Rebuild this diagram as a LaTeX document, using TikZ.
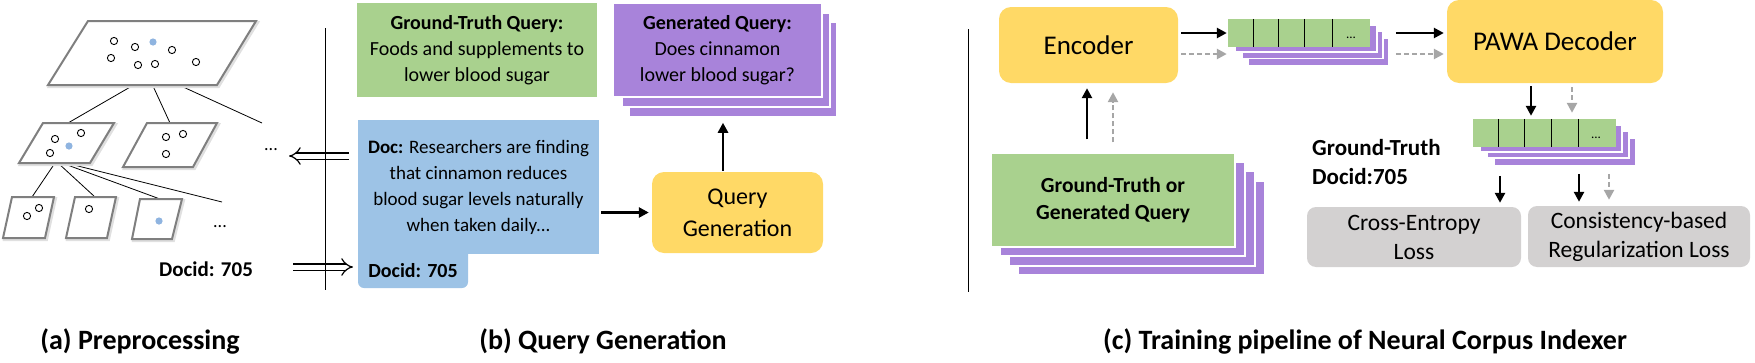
\documentclass[tikz,border=0pt]{standalone}
\usepackage{fontspec}
\setmainfont{Carlito}
\usetikzlibrary{arrows.meta}
\definecolor{qgreen}{HTML}{A9D18E}
\definecolor{qpurple}{HTML}{A883DA}
\definecolor{qblue}{HTML}{9DC3E6}
\definecolor{qyellow}{HTML}{FFD966}
\definecolor{qgray}{HTML}{D3D1D1}
\definecolor{dotblue}{HTML}{8FB4E0}
\definecolor{pgray}{HTML}{7F7F7F}
\definecolor{dgray}{HTML}{A6A6A6}
\newcommand\fsz[2]{\fontsize{#1}{#2}\selectfont}
\begin{document}
\begin{tikzpicture}[x=1pt,y=-1pt,
  para/.style={draw=pgray, line width=2pt, fill=white, line join=miter,
    preaction={draw=black!12, line width=3pt, transform canvas={shift={(1.5pt,-1.5pt)}}}},
  dotw/.style={draw=black, line width=0.9pt, fill=white},
  dotb/.style={fill=dotblue},
  tline/.style={line width=0.8pt, black},
  box/.style={inner sep=0pt, align=center},
  layer/.style={fill=qpurple, draw=white, line width=1.5pt},
  arr/.style={-{Triangle[length=10pt,width=10pt]}, line width=2.7pt, black},
  darr/.style={-{Triangle[length=10pt,width=10pt]}, line width=2.7pt, dgray, dash pattern=on 5pt off 3pt},
  hollow/.style={double=white, double distance=5pt, line width=1.2pt, -{Implies[length=7pt]}},
  divider/.style={line width=1pt, black},
  captxt/.style={font=\fsz{28}{32}\bfseries}
]
\useasboundingbox (0,0) rectangle (1755,362);

% ---------------- (a) Preprocessing ----------------
\draw[tline] (132,86) -- (68,123);
\draw[tline] (153,86) -- (170,123);
\draw[tline] (181,86) -- (262,123);
\draw[tline] (55,163) -- (32,197);
\draw[tline] (58,163) -- (95,197);
\draw[tline] (62,163) -- (160,199);
\draw[tline] (66,163) -- (222,202);

\draw[para] (88,21) -- (256,21) -- (217,85) -- (48,85) -- cycle;
\foreach \p in {(114,41),(135,47),(172,50),(111,58),(138,65),(155,64),(196,62)}
  \draw[dotw] \p circle[radius=3.6];
\fill[dotb] (153,42) circle[radius=3.6];

\draw[para] (43,123) -- (114,123) -- (90,163) -- (19,163) -- cycle;
\foreach \p in {(55,139),(81,133),(50,153)}
  \draw[dotw] \p circle[radius=3.6];
\fill[dotb] (69,146) circle[radius=3.6];

\draw[para] (147,123) -- (217,123) -- (193,167) -- (123,167) -- cycle;
\foreach \p in {(166,137),(183,134),(166,154)}
  \draw[dotw] \p circle[radius=3.6];

\draw[para] (12,197) -- (54,197) -- (45,238) -- (3,238) -- cycle;
\foreach \p in {(27,216),(39,208)}
  \draw[dotw] \p circle[radius=3.6];
\draw[para] (75,197) -- (116,197) -- (107,238) -- (66,238) -- cycle;
\draw[dotw] (89,209) circle[radius=3.6];
\draw[para] (140,199) -- (182,199) -- (172,239) -- (132,239) -- cycle;
\fill[dotb] (159,221) circle[radius=3.6];

\node[box, font=\fsz{18}{20}] (dotsa) at (271,150) {...};
\node[box, font=\fsz{18}{20}] (dotsb) at (220,227) {...};
\node[box, font=\fsz{21}{24}\bfseries] (docida) at (206,269) {Docid: 705};

\coordinate (hl1) at (349,156);
\coordinate (hl2) at (289,156);
\coordinate (hr1) at (293,267);
\coordinate (hr2) at (353,267);
\draw[hollow] (hl1) -- (hl2);
\draw[hollow] (hr1) -- (hr2);
\coordinate (d1t) at (325,28);
\coordinate (d1b) at (325,290);
\draw[divider] (d1t) -- (d1b);

\node[captxt] (capa) at (140,341) {(a) Preprocessing};

% ---------------- (b) Query Generation ----------------
\node[box, fill=qgreen, minimum width=240, minimum height=94, font=\fsz{20}{26}] (gtq) at (477,50)
  {\textbf{Ground-Truth Query:}\\Foods and supplements to\\lower blood sugar};

\node[layer, minimum width=208, minimum height=95] (gq3) at (733,69.5) {};
\node[layer, minimum width=208, minimum height=94] (gq2) at (726,60) {};
\node[box, fill=qpurple, draw=white, line width=1.5pt, minimum width=209, minimum height=94, font=\fsz{20}{26}] (gq) at (717.5,50)
  {\textbf{Generated Query:}\\Does cinnamon\\lower blood sugar?};

\fill[qblue, rounded corners=6pt] (358,230) rectangle (468,288);
\node[box, fill=qblue, minimum width=241, minimum height=134, font=\fsz{19}{26}] (doc) at (478.5,187)
  {\textbf{Doc:} Researchers are finding\\that cinnamon reduces\\blood sugar levels naturally\\when taken daily...};
\node[box, font=\fsz{20}{24}\bfseries] (docidb) at (413,271) {Docid: 705};

\node[box, fill=qyellow, rounded corners=12pt, minimum width=171, minimum height=81, font=\fsz{24}{32}] (qg) at (737.5,212.5)
  {Query\\Generation};

\draw[arr, shorten <=2pt, shorten >=3pt] (doc.east |- qg.west) -- (qg.west);
\coordinate (qax) at (723,0);
\draw[arr, shorten <=1pt, shorten >=5pt] (qg.north -| qax) -- (gq3.south -| qax);

\node[captxt] (capb) at (603,341) {(b) Query Generation};

% ---------------- (c) Training pipeline ----------------
\coordinate (d2t) at (968,29);
\coordinate (d2b) at (968,292);
\draw[divider] (d2t) -- (d2b);

\node[box, fill=qyellow, rounded corners=12pt, minimum width=179, minimum height=76, font=\fsz{27}{32}] (enc) at (1088.5,45) {Encoder};
\node[box, fill=qyellow, rounded corners=12pt, minimum width=216, minimum height=83, font=\fsz{27}{32}] (dec) at (1555,41.5) {PAWA Decoder};

% sequence 1
\node[layer, minimum width=141, minimum height=28] (s1c) at (1318.5,52) {};
\node[layer, minimum width=141, minimum height=27] (s1b) at (1312.5,45) {};
\node[layer, minimum width=142, minimum height=27] (s1a) at (1306,38.5) {};
\node[box, fill=qgreen, minimum width=142, minimum height=28] (s1) at (1299,33) {};
\foreach \xx in {1253,1278,1304,1332}
  \draw[line width=1pt] (s1.north -| \xx,0) -- (s1.south -| \xx,0);
\node[box, font=\fsz{13}{14}] (s1dots) at (1351,38) {...};

% sequence 2
\node[layer, minimum width=142, minimum height=28] (s2c) at (1565,152) {};
\node[layer, minimum width=142, minimum height=27] (s2b) at (1558,144.5) {};
\node[layer, minimum width=142, minimum height=27] (s2a) at (1551,138.5) {};
\node[box, fill=qgreen, minimum width=143, minimum height=28] (s2) at (1544.5,133) {};
\foreach \xx in {1498,1524,1551,1578}
  \draw[line width=1pt] (s2.north -| \xx,0) -- (s2.south -| \xx,0);
\node[box, font=\fsz{13}{14}] (s2dots) at (1596,138) {...};

% query stack
\node[layer, minimum width=247, minimum height=94] (gc3) at (1141.5,228) {};
\node[layer, minimum width=246, minimum height=95] (gc2) at (1132,218.5) {};
\node[layer, minimum width=245, minimum height=94] (gc1) at (1122.5,209) {};
\node[box, fill=qgreen, draw=white, line width=1.5pt, minimum width=244, minimum height=94, font=\fsz{21.5}{27}\bfseries] (gq0) at (1113,200)
  {Ground-Truth or\\Generated Query};

\node[box, align=left, anchor=west, font=\fsz{23}{29}\bfseries] (gtd) at (1312,162.5) {Ground-Truth\\Docid:705};

\node[box, fill=qgray, rounded corners=9pt, minimum width=214, minimum height=60, font=\fsz{23.5}{29}] (ce) at (1414,237) {Cross-Entropy\\Loss};
\node[box, fill=qgray, rounded corners=9pt, minimum width=222, minimum height=61, font=\fsz{23.5}{29}] (cr) at (1639,236.5) {Consistency-based\\Regularization Loss};

% arrows
\coordinate (ax1) at (1087,0);
\coordinate (ax2) at (1113,0);
\draw[arr, shorten <=13pt, shorten >=5pt] (gq0.north -| ax1) -- (enc.south -| ax1);
\draw[darr, shorten <=10pt, shorten >=9pt] (gq0.north -| ax2) -- (enc.south -| ax2);

\coordinate (ay1) at (0,33);
\coordinate (ay2) at (0,54);
\draw[arr, shorten <=3pt, shorten >=1pt] (enc.east |- ay1) -- (s1.west |- ay1);
\draw[darr, shorten <=3pt, shorten >=1pt] (enc.east |- ay2) -- (s1.west |- ay2);
\draw[arr, shorten <=6pt, shorten >=3pt] (s1c.east |- ay1) -- (dec.west |- ay1);
\draw[darr, shorten <=6pt, shorten >=3pt] (s1c.east |- ay2) -- (dec.west |- ay2);

\coordinate (bx1) at (1531,0);
\coordinate (bx2) at (1572,0);
\draw[arr, shorten <=3pt, shorten >=3pt] (dec.south -| bx1) -- (s2.north -| bx1);
\draw[darr, shorten <=4pt, shorten >=6pt] (dec.south -| bx2) -- (s2.north -| bx2);

\coordinate (cx1) at (1500,0);
\coordinate (cx2) at (1579,0);
\coordinate (cx3) at (1609,0);
\draw[arr, shorten <=9pt, shorten >=4pt] (s2c.south -| cx1) -- (ce.north -| cx1);
\draw[arr, shorten <=7pt, shorten >=4pt] (s2c.south -| cx2) -- (cr.north -| cx2);
\draw[darr, shorten <=7pt, shorten >=6pt] (s2c.south -| cx3) -- (cr.north -| cx3);

\node[captxt] (capc) at (1365,341) {(c) Training pipeline of Neural Corpus Indexer};
\end{tikzpicture}
\end{document}
